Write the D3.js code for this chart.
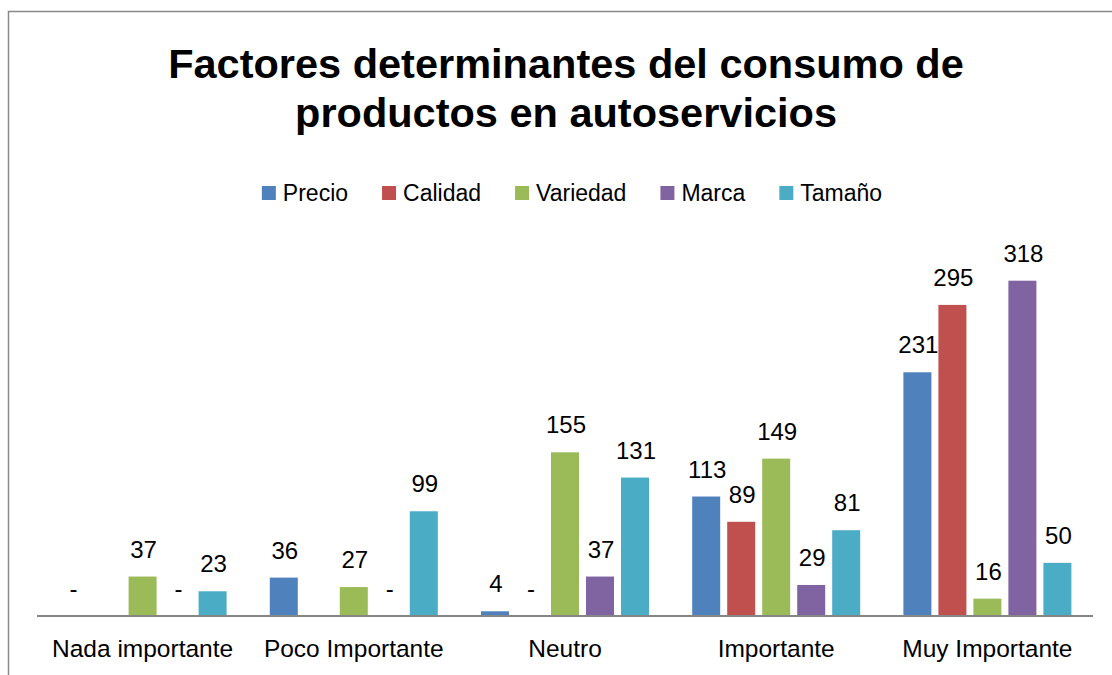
<!DOCTYPE html>
<html>
<head>
<meta charset="utf-8">
<script src="https://d3js.org/d3.v7.min.js"></script>
<style>
  body { margin: 0; background: #fff; }
  svg { display: block; }
</style>
</head>
<body>
<div id="my_dataviz"></div>
<script>
var width = 1112,
    height = 675;

var categories = ['Nada importante', 'Poco Importante', 'Neutro', 'Importante', 'Muy Importante'];
var seriesNames = ['Precio', 'Calidad', 'Variedad', 'Marca', 'Tamaño'];
var colors = ['#4F81BD', '#C0504D', '#9BBB59', '#8064A2', '#4BACC6'];

var precio   = [0, 36, 4, 113, 231];
var calidad  = [null, null, 0, 89, 295];
var variedad = [37, 27, 155, 149, 16];
var marca    = [0, 0, 37, 29, 318];
var tamano   = [23, 99, 131, 81, 50];

var allSeries = [precio, calidad, variedad, marca, tamano];

var svg = d3.select("#my_dataviz")
  .append("svg")
    .attr("width", width)
    .attr("height", height)
    .style("font-family", "'Liberation Sans', Arial, sans-serif");

// chart border (only left and top are visible)
svg.append("path")
  .attr("d", "M8.5," + height + "V11.5H" + width)
  .attr("fill", "none")
  .attr("stroke", "#898989")
  .attr("stroke-width", 1.5);

// title
svg.append("text")
  .attr("x", 566)
  .attr("y", 78)
  .attr("text-anchor", "middle")
  .style("font-size", "41.5px")
  .style("font-weight", "bold")
  .text("Factores determinantes del consumo de");
svg.append("text")
  .attr("x", 566)
  .attr("y", 127)
  .attr("text-anchor", "middle")
  .style("font-size", "41.5px")
  .style("font-weight", "bold")
  .text("productos en autoservicios");

// legend
var legend = svg.append("g");
var lx = 0, legendGap = 34;
seriesNames.forEach(function(name, i) {
  var item = legend.append("g").attr("transform", "translate(" + lx + ",0)");
  item.append("rect")
    .attr("x", 0)
    .attr("y", 186)
    .attr("width", 14)
    .attr("height", 14)
    .attr("fill", colors[i]);
  var t = item.append("text")
    .attr("x", 21)
    .attr("y", 200.5)
    .style("font-size", "23px")
    .text(name);
  lx += 21 + t.node().getComputedTextLength() + legendGap;
});
lx -= legendGap;
legend.attr("transform", "translate(" + (572 - lx / 2) + ",0)");

// scales
var x = d3.scaleBand()
  .domain(categories)
  .range([37, 1093]);

var xSub = d3.scaleBand()
  .domain(seriesNames)
  .range([0, x.bandwidth()])
  .paddingInner(0.2)
  .paddingOuter(0.617);

var y = d3.scaleLinear()
  .domain([0, 350])
  .range([615.5, 247]);

// bars
var groups = svg.selectAll("g.series")
  .data(allSeries)
  .enter()
  .append("g")
    .attr("class", "series")
    .attr("fill", function(d, i) { return colors[i]; });

groups.each(function(values, si) {
  var g = d3.select(this);
  var pts = values.map(function(v, ci) { return {v: v, cat: categories[ci]}; })
    .filter(function(p) { return p.v !== null; });

  g.selectAll("rect")
    .data(pts.filter(function(p) { return p.v > 0; }))
    .enter()
    .append("rect")
      .attr("x", function(p) { return x(p.cat) + xSub(seriesNames[si]); })
      .attr("y", function(p) { return y(p.v); })
      .attr("width", xSub.bandwidth())
      .attr("height", function(p) { return y(0) - y(p.v); });

  g.selectAll("text")
    .data(pts)
    .enter()
    .append("text")
      .attr("x", function(p) { return x(p.cat) + xSub(seriesNames[si]) + xSub.bandwidth() / 2 + 1; })
      .attr("y", function(p) { return y(p.v) - 19; })
      .attr("text-anchor", "middle")
      .attr("fill", "#000")
      .style("font-size", "24px")
      .text(function(p) { return p.v === 0 ? "-" : p.v; });
});

// x axis
svg.append("line")
  .attr("x1", 37)
  .attr("x2", 1093)
  .attr("y1", y(0) + 0.5)
  .attr("y2", y(0) + 0.5)
  .attr("stroke", "#868686")
  .attr("stroke-width", 2);

svg.selectAll("text.cat")
  .data(categories)
  .enter()
  .append("text")
    .attr("class", "cat")
    .attr("x", function(d) { return x(d) + x.bandwidth() / 2; })
    .attr("y", 657)
    .attr("text-anchor", "middle")
    .style("font-size", "24.5px")
    .text(function(d) { return d; });
</script>
</body>
</html>
